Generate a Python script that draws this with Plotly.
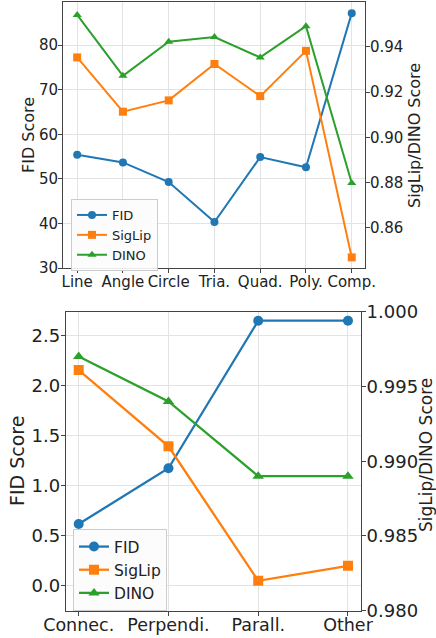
import plotly.graph_objects as go

# ---- Data: top panel (shape types) ----
top_categories = ["Line", "Angle", "Circle", "Tria.", "Quad.", "Poly.", "Comp."]
top_fid = [55.4, 53.7, 49.3, 40.3, 54.9, 52.6, 87.2]
top_siglip = [0.9353, 0.9113, 0.9163, 0.9324, 0.9182, 0.9382, 0.8469]
top_dino = [0.9541, 0.9272, 0.9422, 0.9443, 0.9353, 0.9491, 0.8798]

# ---- Data: bottom panel (relations) ----
bot_categories = ["Connec.", "Perpendi.", "Parall.", "Other"]
bot_fid = [0.616, 1.173, 2.647, 2.647]
bot_siglip = [0.9961, 0.9910, 0.9820, 0.9830]
bot_dino = [0.9970, 0.9940, 0.9890, 0.9890]

top_left_ticks = [30, 40, 50, 60, 70, 80]
top_right_ticks = [0.86, 0.88, 0.90, 0.92, 0.94]
bot_left_ticks = [0.0, 0.5, 1.0, 1.5, 2.0, 2.5]
bot_right_ticks = [0.980, 0.985, 0.990, 0.995, 1.000]

BLUE, ORANGE, GREEN = "#1f77b4", "#ff7f0e", "#2ca02c"
FONT = "DejaVu Sans"
W, H = 436, 638

fig = go.Figure()

def add_series(xs, ys, name, color, symbol, xa, ya, legend, msize, lw, showlegend=True):
    fig.add_trace(go.Scatter(
        x=xs, y=ys, name=name, mode="lines+markers",
        line=dict(color=color, width=lw),
        marker=dict(color=color, symbol=symbol, size=msize),
        xaxis=xa, yaxis=ya, legend=legend, showlegend=showlegend,
    ))

tx = list(range(len(top_categories)))
bx = list(range(len(bot_categories)))

add_series(tx, top_fid, "FID", BLUE, "circle", "x", "y", "legend", 8, 2)
add_series(tx, top_siglip, "SigLip", ORANGE, "square", "x", "y2", "legend", 8, 2)
add_series(tx, top_dino, "DINO", GREEN, "triangle-up", "x", "y2", "legend", 8, 2)

add_series(bx, bot_fid, "FID", BLUE, "circle", "x2", "y3", "legend2", 10, 2.3)
add_series(bx, bot_siglip, "SigLip", ORANGE, "square", "x2", "y4", "legend2", 10, 2.3)
add_series(bx, bot_dino, "DINO", GREEN, "triangle-up", "x2", "y4", "legend2", 10, 2.3)

GRID = "#e3e3e3"
LINE = "#444444"

def xax(domain, anchor, ticks, labels, size, rng, standoff):
    return dict(domain=domain, anchor=anchor, range=rng, tickmode="array",
                tickvals=ticks, ticktext=labels, showgrid=True, gridcolor=GRID,
                showline=True, linecolor=LINE, linewidth=1, mirror=True,
                ticks="outside", ticklen=4, tickcolor=LINE, zeroline=False,
                automargin=False, tickangle=0, ticklabelstandoff=standoff,
                tickfont=dict(family=FONT, size=size, color="#222"))

def yax(domain, anchor, ticks, rng, size, fmt=None, grid=True, standoff=-3):
    d = dict(domain=domain, anchor=anchor, range=rng, tickmode="array",
             tickvals=ticks, showgrid=grid, gridcolor=GRID,
             showline=True, linecolor=LINE, linewidth=1,
             ticks="outside", ticklen=4, tickcolor=LINE, zeroline=False,
             automargin=False, ticklabelstandoff=standoff,
             tickfont=dict(family=FONT, size=size, color="#222"))
    if fmt:
        d["tickformat"] = fmt
    return d

top_x_dom = [63 / W, 365 / W]
top_y_dom = [1 - 268 / H, 1 - 2 / H]
bot_x_dom = [65.7 / W, 361 / W]
bot_y_dom = [1 - 610.7 / H, 1 - 311.7 / H]

layout = dict(
    width=W, height=H,
    margin=dict(l=0, r=0, t=0, b=0),
    paper_bgcolor="white", plot_bgcolor="white",
    font=dict(family=FONT, color="#222"),
    xaxis=xax(top_x_dom, "y", tx, top_categories, 15, [-0.31, 6.29], -4),
    yaxis=yax(top_y_dom, "x", top_left_ticks, [30, 89.7], 15),
    yaxis2=dict(yax(top_y_dom, "x", top_right_ticks, [0.8422, 0.9598], 15, fmt=".2f", grid=False),
                overlaying="y", side="right"),
    xaxis2=xax(bot_x_dom, "y3", bx, bot_categories, 17.5, [-0.145, 3.145], -6),
    yaxis3=yax(bot_y_dom, "x2", bot_left_ticks, [-0.25, 2.737], 18, fmt=".1f"),
    yaxis4=dict(yax(bot_y_dom, "x2", bot_right_ticks, [0.98, 1.0], 18, fmt=".3f", grid=False),
                overlaying="y3", side="right"),
    legend=dict(x=71 / W, y=1 - 199 / H, xanchor="left", yanchor="top",
                bgcolor="rgba(252,252,252,0.9)", bordercolor="#cccccc", borderwidth=1,
                font=dict(family=FONT, size=13, color="#222"), tracegroupgap=0),
    legend2=dict(x=73 / W, y=1 - 529 / H, xanchor="left", yanchor="top",
                 bgcolor="rgba(252,252,252,0.9)", bordercolor="#cccccc", borderwidth=1,
                 font=dict(family=FONT, size=15.5, color="#222"), tracegroupgap=0),
    showlegend=True,
    annotations=[
        dict(text="FID Score", x=28 / W, y=1 - 135 / H, xref="paper", yref="paper",
             textangle=-90, showarrow=False, xanchor="center", yanchor="middle",
             font=dict(family=FONT, size=16, color="#222")),
        dict(text="SigLip/DINO Score", x=414 / W, y=1 - 136 / H, xref="paper", yref="paper",
             textangle=-90, showarrow=False, xanchor="center", yanchor="middle",
             font=dict(family=FONT, size=16, color="#222")),
        dict(text="FID Score", x=17 / W, y=1 - 461 / H, xref="paper", yref="paper",
             textangle=-90, showarrow=False, xanchor="center", yanchor="middle",
             font=dict(family=FONT, size=19, color="#222")),
        dict(text="SigLip/DINO Score", x=426 / W, y=1 - 455 / H, xref="paper", yref="paper",
             textangle=-90, showarrow=False, xanchor="center", yanchor="middle",
             font=dict(family=FONT, size=17, color="#222")),
    ],
)

fig.update_layout(**layout)
fig.write_html(
    "out.html",
    config={"displayModeBar": False},
    post_script="document.body.style.margin='0';document.body.style.overflow='hidden';",
)
